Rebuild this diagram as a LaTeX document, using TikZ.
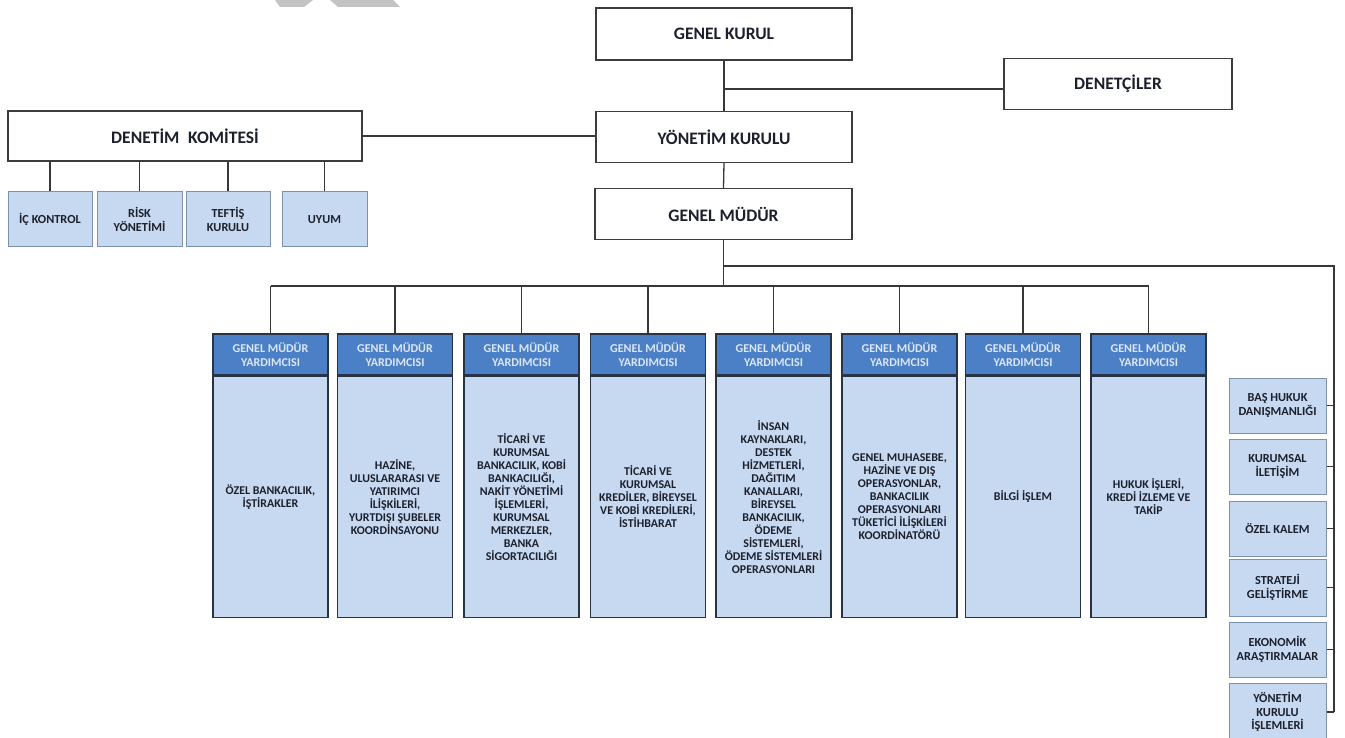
\documentclass[tikz,border=0pt]{standalone}
\usepackage{fontspec}
\setmainfont{Carlito}
\definecolor{linec}{RGB}{55,55,55}
\definecolor{boxline}{RGB}{60,60,60}
\definecolor{lightline}{RGB}{125,145,170}
\definecolor{vpline}{RGB}{40,52,68}
\definecolor{headfill}{RGB}{76,128,198}
\definecolor{headtext}{RGB}{220,231,246}
\definecolor{bodyfill}{RGB}{199,217,240}
\definecolor{textc}{RGB}{28,32,45}
\definecolor{wmark}{RGB}{195,195,195}
\begin{document}
\begin{tikzpicture}[x=1pt,y=-1pt,
  conn/.style={draw=linec, line width=1.3pt},
  topbox/.style={draw=boxline, line width=1.3pt, fill=white, minimum height=52pt, inner sep=0pt, text=textc, font=\bfseries\fontsize{17.5}{20}\selectfont},
  smallbox/.style={draw=lightline, line width=1pt, fill=bodyfill, inner sep=0pt, minimum width=85pt, minimum height=55pt, align=center, text=textc, font=\bfseries\fontsize{12.3}{13.5}\selectfont},
  sidebox/.style={smallbox, minimum width=97pt},
  vphead/.style={draw=vpline, line width=1.4pt, fill=headfill, minimum width=115pt, minimum height=41pt, inner sep=0pt, align=center, text=headtext, font=\bfseries\fontsize{12}{13.5}\selectfont},
  vpbody/.style={draw=vpline, line width=1.4pt, fill=bodyfill, minimum width=115pt, minimum height=241pt, inner sep=0pt, align=center, text=textc, font=\bfseries\fontsize{11.9}{13}\selectfont}
]
\useasboundingbox (0,0) rectangle (1345,738);
\clip (0,0) rectangle (1345,738);
\fill[white] (0,0) rectangle (1345,738);
% faint watermark remnants
\fill[wmark] (275,0) -- (313,0) -- (304,7) -- (280,7) -- cycle;
\fill[wmark] (330,0) -- (393,0) -- (400,7) -- (338,7) -- cycle;

% top hierarchy
\node[topbox, minimum width=256pt] (gk) at (724,34) {GENEL KURUL};
\node[topbox, minimum width=228pt, minimum height=51pt] (den) at (1118,84) {DENETÇİLER};
\node[topbox, minimum width=256pt, minimum height=51pt] (yk) at (724,137) {YÖNETİM KURULU};
\node[topbox, minimum width=257pt, minimum height=51pt] (gm) at (723.5,214) {GENEL MÜDÜR};
\node[topbox, minimum width=354pt, minimum height=50pt] (dk) at (185,136) {DENETİM\hspace{0.5em}KOMİTESİ};

% audit committee units
\node[smallbox, minimum width=84pt] (ic) at (50,219.5) {İÇ KONTROL};
\node[smallbox] (rk) at (139.5,219.5) {RİSK\\YÖNETİMİ};
\node[smallbox, minimum width=84pt] (tf) at (228,219.5) {TEFTİŞ\\KURULU};
\node[smallbox] (uy) at (324.5,219.5) {UYUM};

% connectors top
\draw[conn] (gk.south) -- (yk.north);
\draw[conn] ([yshift=-5pt]den.west -| gk.south) -- ([yshift=-5pt]den.west);
\draw[conn] (dk.east) -- (yk.west |- dk.east);
\draw[conn] (yk.south) -- (gm.north);
\foreach \n in {ic,rk,tf,uy} \draw[conn] (\n.north) -- (\n.north |- dk.south);

% vice presidents
\foreach \i/\x in {1/270.5,2/395,3/521.5,4/648,5/773.5,6/899.5,7/1023,8/1148.5}{
  \node[vphead] (h\i) at (\x,354.5) {GENEL MÜDÜR\\YARDIMCISI};
}
\node[vpbody, anchor=north] (b1) at (h1.south) {ÖZEL BANKACILIK,\\İŞTİRAKLER};
\node[vpbody, anchor=north] (b2) at (h2.south) {HAZİNE,\\ULUSLARARASI VE\\YATIRIMCI\\İLİŞKİLERİ,\\YURTDIŞI ŞUBELER\\KOORDİNSAYONU};
\node[vpbody, anchor=north] (b3) at (h3.south) {TİCARİ VE\\KURUMSAL\\BANKACILIK, KOBİ\\BANKACILIĞI,\\NAKİT YÖNETİMİ\\İŞLEMLERİ,\\KURUMSAL\\MERKEZLER,\\BANKA\\SİGORTACILIĞI};
\node[vpbody, anchor=north] (b4) at (h4.south) {TİCARİ VE\\KURUMSAL\\KREDİLER, BİREYSEL\\VE KOBİ KREDİLERİ,\\İSTİHBARAT};
\node[vpbody, anchor=north] (b5) at (h5.south) {İNSAN\\KAYNAKLARI,\\DESTEK\\HİZMETLERİ,\\DAĞITIM\\KANALLARI,\\BİREYSEL\\BANKACILIK,\\ÖDEME\\SİSTEMLERİ,\\ÖDEME SİSTEMLERİ\\OPERASYONLARI};
\node[vpbody, anchor=north] (b6) at (h6.south) {GENEL MUHASEBE,\\HAZİNE VE DIŞ\\OPERASYONLAR,\\BANKACILIK\\OPERASYONLARI\\TÜKETİCİ İLİŞKİLERİ\\KOORDİNATÖRÜ};
\node[vpbody, anchor=north] (b7) at (h7.south) {BİLGİ İŞLEM};
\node[vpbody, anchor=north] (b8) at (h8.south) {HUKUK İŞLERİ,\\KREDİ İZLEME VE\\TAKİP};
% redraw headers on top of body borders
\foreach \i/\x in {1/270.5,2/395,3/521.5,4/648,5/773.5,6/899.5,7/1023,8/1148.5}{
  \node[vphead] at (\x,354.5) {GENEL MÜDÜR\\YARDIMCISI};
}

% staff units on the right
\node[sidebox] (r1) at (1277.5,405.5) {BAŞ HUKUK\\DANIŞMANLIĞI};
\node[sidebox] (r2) at (1277.5,466.5) {KURUMSAL\\İLETİŞİM};
\node[sidebox] (r3) at (1277.5,528.5) {ÖZEL KALEM};
\node[sidebox, minimum height=57pt] (r4) at (1277.5,587.5) {STRATEJİ\\GELİŞTİRME};
\node[sidebox] (r5) at (1277.5,649.5) {EKONOMİK\\ARAŞTIRMALAR};
\node[sidebox, minimum height=58pt] (r6) at (1277.5,712) {YÖNETİM\\KURULU\\İŞLEMLERİ};

% general manager connectors
\coordinate (bus) at (723.5,286);
\coordinate (rc) at (1334,266);
\draw[conn] (gm.south) -- (bus);
\draw[conn] (h1.north |- bus) -- (h8.north |- bus);
\foreach \i in {1,...,8} \draw[conn] (h\i.north) -- (h\i.north |- bus);
\draw[conn] (gm.south |- rc) -- (rc) -- (rc |- r6.east);
\foreach \n in {r1,r2,r3,r4,r5,r6} \draw[conn] (\n.east) -- (\n.east -| rc);
\end{tikzpicture}
\end{document}
